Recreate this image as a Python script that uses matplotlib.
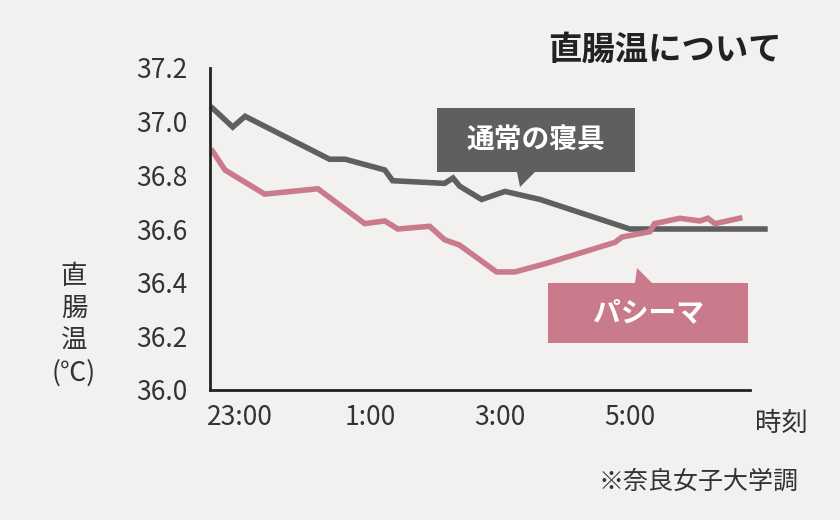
import matplotlib
matplotlib.use('Agg')
import matplotlib.pyplot as plt
from matplotlib.patches import Polygon

plt.rcParams['font.family'] = 'Noto Sans CJK JP'

# hours after 23:00
gray_x = [-0.42, -0.11, 0.08, 1.38, 1.62, 2.23, 2.35, 3.15, 3.28, 3.38, 3.72, 4.08, 4.62, 6.0, 8.08]
gray_y = [37.05, 36.98, 37.02, 36.86, 36.86, 36.82, 36.78, 36.77, 36.79, 36.76, 36.71, 36.74, 36.71, 36.60, 36.60]
pink_x = [-0.42, -0.23, 0.38, 1.2, 1.92, 2.23, 2.43, 2.92, 3.15, 3.38, 3.95, 4.23, 4.69, 5.77, 5.88, 6.31,
          6.38, 6.77, 7.08, 7.2, 7.31, 7.69]
pink_y = [36.89, 36.82, 36.73, 36.75, 36.62, 36.63, 36.60, 36.61, 36.56, 36.54, 36.44, 36.44, 36.47, 36.55,
          36.57, 36.59, 36.62, 36.64, 36.63, 36.64, 36.62, 36.64]
x_ticks = [0, 2, 4, 6]
x_labels = ['23:00', '1:00', '3:00', '5:00']
y_ticks = [36.0, 36.2, 36.4, 36.6, 36.8, 37.0, 37.2]

BG = '#f3f1ef'
GRAY = '#5f5f5f'
PINK = '#c97b8c'

fig = plt.figure(figsize=(8.4, 5.2), dpi=100, facecolor=BG)
ax = fig.add_axes([210/840, 1-390/520, 540/840, 322/520])
ax.set_facecolor(BG)

ax.plot(gray_x, gray_y, color=GRAY, lw=4, clip_on=False, solid_joinstyle='miter')
ax.plot(pink_x, pink_y, color=PINK, lw=4, clip_on=False, solid_joinstyle='miter')

ax.set_xlim(-0.46, 7.85)
ax.set_ylim(36.0, 37.2)
ax.set_xticks(x_ticks)
ax.set_xticklabels(x_labels)
ax.set_yticks(y_ticks)
ax.set_yticklabels([f'{v:.1f}' for v in y_ticks])
ax.tick_params(length=0, labelsize=19, colors='#333333', pad=16)
ax.tick_params(axis='x', pad=10)
for s in ['top', 'right']:
    ax.spines[s].set_visible(False)
for s in ['left', 'bottom']:
    ax.spines[s].set_linewidth(2)
    ax.spines[s].set_color('#222222')


def px(x, y):
    return (x / 840, 1 - y / 520)


def callout(pts, color, text, tx, ty):
    fig.patches.append(Polygon([px(*p) for p in pts], closed=True, facecolor=color,
                               edgecolor='none', transform=fig.transFigure))
    fig.text(*px(tx, ty), text, color='white', fontsize=20, fontweight='bold',
             ha='center', va='center')


callout([(437, 108), (635, 108), (635, 172), (535, 172), (520, 187), (517, 172), (437, 172)],
        GRAY, '通常の寝具', 536, 140)
callout([(548, 283), (635, 283), (637, 268), (652, 283), (748, 283), (748, 343), (548, 343)],
        PINK, 'パシーマ', 648, 313)

fig.text(*px(782, 50), '直腸温について', fontsize=24, fontweight='bold', color='#222222',
         ha='right', va='center')
fig.text(*px(755, 423), '時刻', fontsize=19, color='#333333', ha='left', va='center')
fig.text(*px(74, 325), '直\n腸\n温\n(℃)', fontsize=19, color='#333333', ha='center', va='center',
         linespacing=1.25)
fig.text(*px(798, 482), '※奈良女子大学調', fontsize=18, color='#333333', ha='right', va='center')

fig.savefig('out.png', dpi=100, facecolor=BG)
